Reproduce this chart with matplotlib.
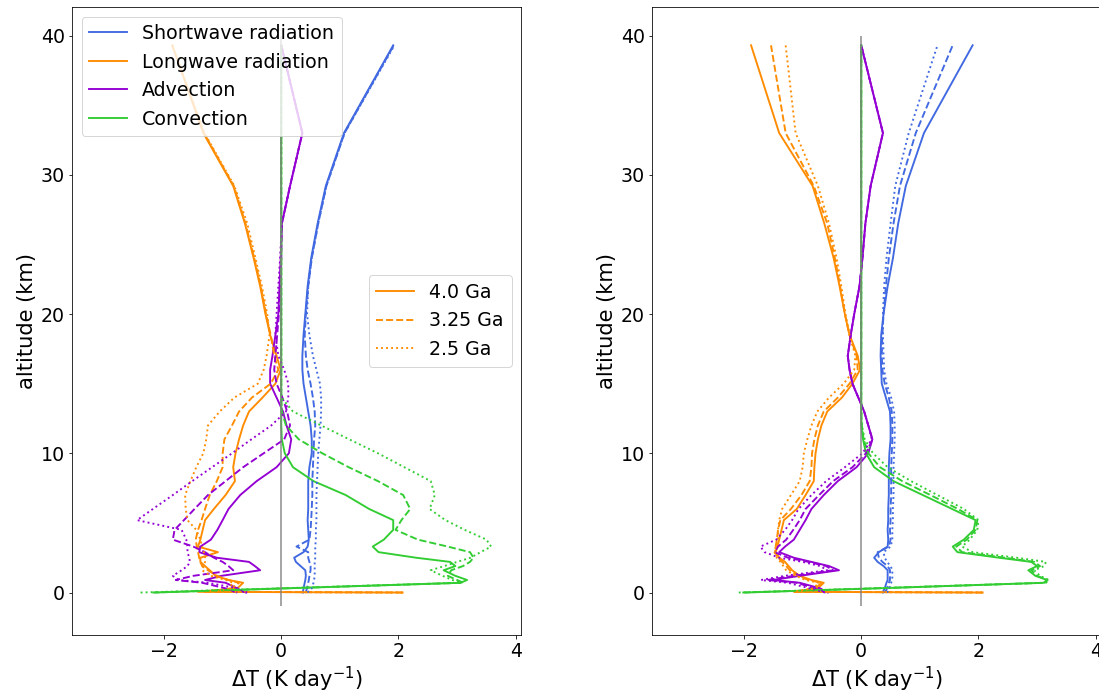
import matplotlib
matplotlib.use("Agg")
from matplotlib import pyplot as plt, lines

# altitude levels (km)
alt = [0.0, 0.05, 0.3, 0.7, 0.9, 1.2, 1.6, 1.9, 2.2, 2.5, 2.9, 3.3, 3.8, 4.5, 5.2, 6.0, 7.0, 8.0,
       9.0, 10.0, 11.0, 12.0, 13.0, 14.0, 15.0, 16.0, 17.0, 18.5, 20.0, 22.0, 24.0, 26.5, 29.2, 33.0, 39.3]

ages = ["4.0 Ga", "3.25 Ga", "2.5 Ga"]
terms = ["Shortwave radiation", "Longwave radiation", "Advection", "Convection"]

# left panel, heating rates (K/day)
sw_l_40 = [0.37, 0.37, 0.38, 0.40, 0.41, 0.42, 0.41, 0.33, 0.25, 0.22, 0.38, 0.45, 0.47, 0.46, 0.45, 0.46, 0.46, 0.46,
           0.48, 0.52, 0.52, 0.50, 0.46, 0.42, 0.38, 0.36, 0.36, 0.38, 0.41, 0.45, 0.51, 0.62, 0.76, 1.07, 1.91]
sw_l_325 = [0.42, 0.42, 0.44, 0.46, 0.47, 0.48, 0.50, 0.50, 0.48, 0.46, 0.46, 0.26, 0.48, 0.50, 0.51, 0.52, 0.53, 0.53,
            0.54, 0.55, 0.56, 0.58, 0.57, 0.54, 0.50, 0.45, 0.42, 0.40, 0.42, 0.46, 0.52, 0.63, 0.77, 1.08, 1.92]
sw_l_25 = [0.45, 0.46, 0.52, 0.55, 0.56, 0.57, 0.57, 0.57, 0.57, 0.58, 0.58, 0.58, 0.59, 0.59, 0.60, 0.60, 0.60, 0.61,
           0.62, 0.63, 0.65, 0.67, 0.68, 0.68, 0.66, 0.60, 0.54, 0.48, 0.44, 0.46, 0.52, 0.63, 0.77, 1.08, 1.93]

lw_l_40 = [2.07, -1.42, -0.75, -0.65, -0.90, -1.12, -1.22, -1.30, -1.38, -1.38, -1.08, -1.42, -1.38, -1.34, -1.30, -1.15,
           -0.95, -0.79, -0.82, -0.78, -0.72, -0.65, -0.55, -0.32, -0.10, -0.01, -0.08, -0.19, -0.27, -0.36, -0.47,
           -0.62, -0.82, -1.33, -1.86]
lw_l_325 = [2.07, -1.30, -0.85, -0.72, -0.90, -1.10, -1.25, -1.35, -1.38, -1.40, -1.42, -1.44, -1.46, -1.42, -1.36,
            -1.30, -1.22, -1.10, -1.00, -1.00, -0.97, -0.84, -0.72, -0.50, -0.18, -0.05, -0.12, -0.18, -0.26, -0.35,
            -0.46, -0.61, -0.81, -1.32, -1.86]
lw_l_25 = [2.07, -1.10, -0.90, -0.82, -0.95, -1.20, -1.35, -1.33, -1.30, -1.30, -1.32, -1.35, -1.38, -1.45, -1.60,
           -1.63, -1.64, -1.55, -1.45, -1.33, -1.28, -1.25, -1.05, -0.80, -0.40, -0.30, -0.25, -0.20, -0.24, -0.33,
           -0.44, -0.58, -0.80, -1.31, -1.86]

adv_l_40 = [-0.60, -0.65, -0.75, -0.95, -1.30, -1.02, -0.36, -0.45, -0.55, -1.10, -1.40, -1.38, -1.20, -1.09, -1.00,
            -0.90, -0.70, -0.42, -0.08, 0.13, 0.17, 0.09, 0.03, -0.08, -0.19, -0.19, -0.15, -0.10, -0.05, -0.03,
            -0.01, 0.01, 0.15, 0.36, 0.0]
adv_l_325 = [-0.75, -0.80, -0.95, -1.35, -1.80, -1.50, -0.82, -0.90, -1.00, -1.15, -1.30, -1.50, -1.85, -1.82, -1.66,
             -1.48, -1.25, -0.95, -0.65, -0.30, 0.05, 0.15, 0.10, 0.02, -0.08, -0.12, -0.10, -0.07, -0.04, -0.02,
             0.0, 0.01, 0.15, 0.36, 0.0]
adv_l_25 = [-0.58, -0.62, -0.75, -1.25, -1.75, -1.85, -1.70, -1.60, -1.56, -1.57, -1.60, -1.60, -1.62, -1.70, -2.46,
            -2.19, -1.85, -1.52, -1.18, -0.84, -0.51, -0.17, 0.08, 0.12, 0.12, 0.05, -0.05, -0.10, -0.08, -0.05,
            -0.02, 0.01, 0.15, 0.36, 0.0]

conv_l_40 = [-2.15, -1.78, 0.08, 3.06, 3.17, 2.97, 2.77, 2.97, 2.88, 2.30, 1.66, 1.56, 1.75, 1.91, 1.91, 1.50, 1.10,
             0.55, 0.20, 0.06, 0.01, 0.0, 0.0, 0.0, 0.0, 0.0, 0.0, 0.0, 0.0, 0.0, 0.0, 0.0, 0.0, 0.0, 0.0]
conv_l_325 = [-2.20, -1.82, 0.05, 3.11, 3.00, 2.84, 2.90, 3.10, 3.22, 3.28, 3.22, 2.84, 2.33, 1.95, 2.05, 2.20, 2.08,
              1.65, 1.15, 0.70, 0.30, 0.08, 0.01, 0.0, 0.0, 0.0, 0.0, 0.0, 0.0, 0.0, 0.0, 0.0, 0.0, 0.0, 0.0]
conv_l_25 = [-2.40, -2.00, -0.05, 3.06, 2.92, 2.75, 2.55, 2.78, 3.00, 3.23, 3.40, 3.58, 3.50, 3.13, 2.80, 2.53, 2.62,
             2.55, 2.10, 1.65, 1.16, 0.68, 0.20, 0.0, 0.0, 0.0, 0.0, 0.0, 0.0, 0.0, 0.0, 0.0, 0.0, 0.0, 0.0]

# right panel
sw_r_40 = [0.37, 0.37, 0.40, 0.43, 0.45, 0.45, 0.45, 0.38, 0.28, 0.22, 0.30, 0.45, 0.46, 0.45, 0.46, 0.46, 0.47, 0.47,
           0.47, 0.48, 0.50, 0.50, 0.49, 0.42, 0.35, 0.34, 0.33, 0.34, 0.38, 0.45, 0.54, 0.63, 0.76, 1.07, 1.90]
sw_r_325 = [0.41, 0.41, 0.44, 0.47, 0.49, 0.49, 0.49, 0.45, 0.36, 0.30, 0.28, 0.47, 0.50, 0.49, 0.50, 0.50, 0.51, 0.51,
            0.51, 0.52, 0.53, 0.53, 0.52, 0.47, 0.40, 0.36, 0.35, 0.36, 0.38, 0.42, 0.47, 0.55, 0.66, 0.93, 1.56]
sw_r_25 = [0.44, 0.45, 0.48, 0.51, 0.53, 0.53, 0.53, 0.50, 0.44, 0.40, 0.38, 0.50, 0.53, 0.53, 0.54, 0.54, 0.55, 0.55,
           0.55, 0.56, 0.57, 0.57, 0.56, 0.51, 0.43, 0.39, 0.38, 0.37, 0.37, 0.39, 0.43, 0.50, 0.58, 0.81, 1.30]

lw_r_40 = [2.07, -1.15, -0.74, -0.64, -0.85, -1.05, -1.18, -1.24, -1.30, -1.40, -1.46, -1.43, -1.40, -1.36, -1.32,
           -1.10, -0.95, -0.81, -0.80, -0.78, -0.74, -0.68, -0.58, -0.33, -0.15, -0.02, -0.06, -0.20, -0.28, -0.37,
           -0.47, -0.63, -0.83, -1.40, -1.88]
lw_r_325 = [2.07, -1.15, -0.78, -0.68, -0.90, -1.08, -1.22, -1.28, -1.35, -1.42, -1.47, -1.46, -1.44, -1.42, -1.38,
            -1.20, -1.02, -0.88, -0.85, -0.84, -0.80, -0.74, -0.64, -0.40, -0.20, -0.06, -0.08, -0.20, -0.28, -0.36,
            -0.45, -0.58, -0.81, -1.29, -1.54]
lw_r_25 = [2.07, -1.15, -0.82, -0.72, -0.95, -1.12, -1.28, -1.33, -1.38, -1.44, -1.48, -1.46, -1.42, -1.42, -1.40,
           -1.35, -1.20, -1.05, -1.00, -0.98, -0.92, -0.85, -0.75, -0.55, -0.30, -0.12, -0.10, -0.20, -0.27, -0.34,
           -0.42, -0.55, -0.74, -1.12, -1.29]

adv_r_40 = [-0.57, -0.60, -0.70, -1.05, -1.50, -1.05, -0.38, -0.55, -0.85, -1.15, -1.40, -1.30, -1.15, -1.05, -0.95,
            -0.85, -0.64, -0.40, -0.08, 0.12, 0.19, 0.12, 0.05, -0.05, -0.15, -0.20, -0.23, -0.18, -0.12, -0.03,
            0.02, 0.07, 0.16, 0.37, 0.0]
adv_r_325 = [-0.60, -0.63, -0.80, -1.10, -1.60, -1.15, -0.48, -0.60, -0.90, -1.25, -1.48, -1.42, -1.28, -1.16, -1.05,
             -0.95, -0.72, -0.48, -0.15, 0.08, 0.19, 0.12, 0.05, -0.05, -0.15, -0.20, -0.23, -0.18, -0.12, -0.03,
             0.02, 0.07, 0.16, 0.37, 0.0]
adv_r_25 = [-0.62, -0.66, -0.88, -1.25, -1.71, -1.30, -0.58, -0.70, -1.00, -1.40, -1.65, -1.72, -1.45, -1.30, -1.18,
            -1.07, -0.85, -0.60, -0.28, 0.02, 0.18, 0.12, 0.05, -0.05, -0.15, -0.20, -0.23, -0.18, -0.12, -0.03,
            0.02, 0.07, 0.16, 0.37, 0.0]

conv_r_40 = [-1.97, -1.60, 0.28, 3.11, 3.17, 2.97, 2.85, 3.00, 2.90, 2.35, 1.64, 1.56, 1.75, 1.92, 1.95, 1.55, 1.05,
             0.55, 0.22, 0.08, 0.03, 0.0, 0.0, 0.0, 0.0, 0.0, 0.0, 0.0, 0.0, 0.0, 0.0, 0.0, 0.0, 0.0, 0.0]
conv_r_325 = [-2.03, -1.65, 0.22, 3.13, 3.18, 3.00, 2.90, 3.05, 2.95, 2.45, 1.72, 1.62, 1.80, 1.95, 1.98, 1.65, 1.18,
              0.70, 0.32, 0.12, 0.04, 0.01, 0.0, 0.0, 0.0, 0.0, 0.0, 0.0, 0.0, 0.0, 0.0, 0.0, 0.0, 0.0, 0.0]
conv_r_25 = [-2.09, -1.70, 0.18, 3.15, 3.20, 3.05, 2.95, 3.12, 3.15, 2.65, 1.90, 1.72, 1.85, 1.98, 2.00, 1.75, 1.30,
             0.85, 0.45, 0.20, 0.06, 0.01, 0.0, 0.0, 0.0, 0.0, 0.0, 0.0, 0.0, 0.0, 0.0, 0.0, 0.0, 0.0, 0.0]

colors = ["royalblue", "darkorange", "darkviolet", "limegreen"]
styles = ["-", "--", ":"]

left = [[sw_l_40, lw_l_40, adv_l_40, conv_l_40],
        [sw_l_325, lw_l_325, adv_l_325, conv_l_325],
        [sw_l_25, lw_l_25, adv_l_25, conv_l_25]]
right = [[sw_r_40, lw_r_40, adv_r_40, conv_r_40],
         [sw_r_325, lw_r_325, adv_r_325, conv_r_325],
         [sw_r_25, lw_r_25, adv_r_25, conv_r_25]]

fig = plt.figure(figsize=(1099 / 72, 697 / 72), dpi=72)
ax1 = fig.add_axes([72 / 1099, 62 / 697, 449 / 1099, 628 / 697])
ax2 = fig.add_axes([652 / 1099, 62 / 697, 449 / 1099, 628 / 697])

for ax, panel in [(ax1, left), (ax2, right)]:
    for ls, profiles in zip(styles, panel):
        for c, lab, prof in zip(colors, terms, profiles):
            ax.plot(prof, alt, color=c, ls=ls, lw=1.9, label=lab if ls == "-" else None)
    ax.vlines(0, -1, 40, color="gray", lw=2, alpha=0.7, zorder=3)
    ax.set_xlim(-3.57, 4.09)
    ax.set_ylim(-3.05, 42.05)
    ax.set_xticks([-2, 0, 2, 4])
    ax.set_yticks([0, 10, 20, 30, 40])
    ax.tick_params(labelsize=19)
    ax.set_xlabel(r"$\Delta$T (K day$^{-1}$)", fontsize=21)
    ax.set_ylabel("altitude (km)", fontsize=21)

leg1 = ax1.legend(loc="upper left", fontsize=19)
ax1.add_artist(leg1)
age_handles = [lines.Line2D([0], [0], color="darkorange", ls=ls, lw=1.9) for ls in styles]
ax1.legend(handles=age_handles, labels=ages, loc="center right", fontsize=19)

fig.savefig("out.png", dpi=72)
